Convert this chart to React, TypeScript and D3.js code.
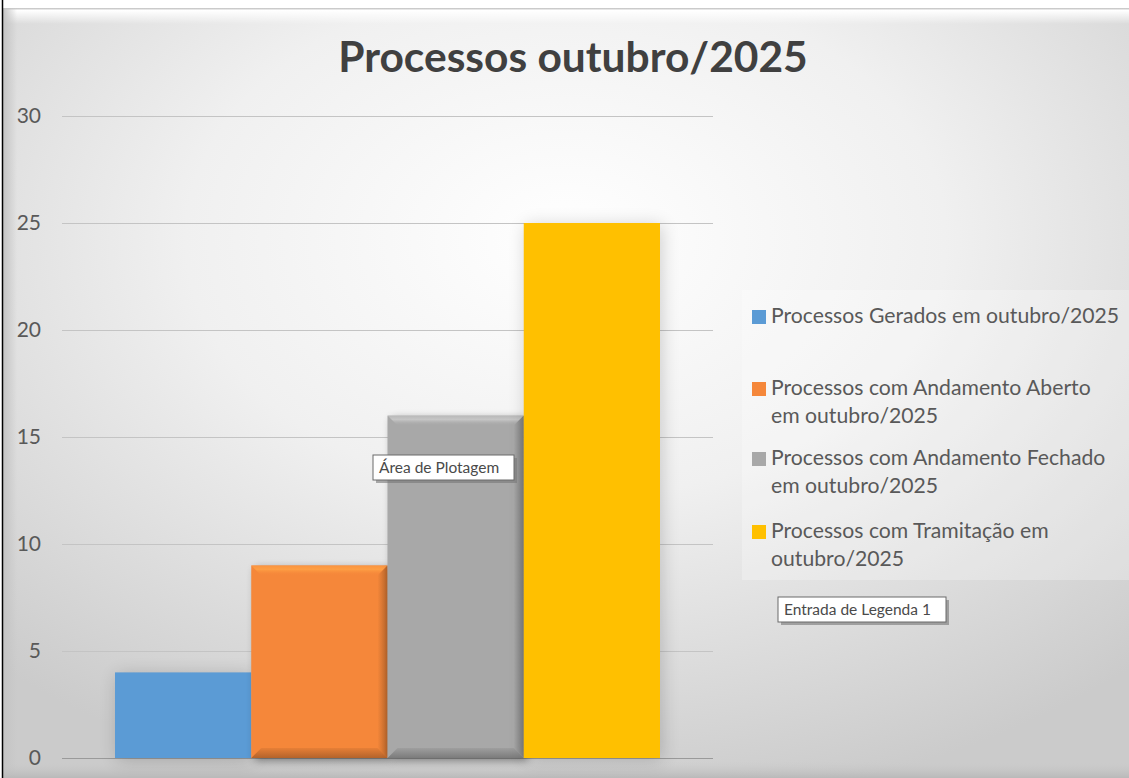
import React from 'react';
import * as d3 from 'd3';

const title = 'Processos outubro/2025';
const seriesNames = [
  'Processos Gerados em outubro/2025',
  'Processos com Andamento Aberto em outubro/2025',
  'Processos com Andamento Fechado em outubro/2025',
  'Processos com Tramitação em outubro/2025',
];
const legendLines = [
  ['Processos Gerados em outubro/2025'],
  ['Processos com Andamento Aberto', 'em outubro/2025'],
  ['Processos com Andamento Fechado', 'em outubro/2025'],
  ['Processos com Tramitação em', 'outubro/2025'],
];
const values = [4, 9, 16, 25];
const colors = ['#5B9BD5', '#F5873A', '#A8A8A8', '#FFC000'];
const beveled = [false, true, true, false];
const yTicks = [0, 5, 10, 15, 20, 25, 30];

const W = 1129;
const H = 778;
const FONT = 'Lato, "Open Sans", sans-serif';

// Excel-like bevel drawn as four facets
function BevelBar({ x, y, w, h, color, id }: { x: number; y: number; w: number; h: number; color: string; id: string }) {
  const b = 10;
  const c = d3.color(color)!;
  const light = c.brighter(0.5).formatHex();
  const dark = c.darker(1).formatHex();
  return (
    <g>
      <defs>
        <linearGradient id={`top-${id}`} x1="0" y1="0" x2="0" y2="1">
          <stop offset="0" stopColor={light} stopOpacity={0.5} />
          <stop offset="0.4" stopColor={light} stopOpacity={0.9} />
          <stop offset="1" stopColor={color} stopOpacity={0} />
        </linearGradient>
        <linearGradient id={`right-${id}`} x1="0" y1="0" x2="1" y2="0">
          <stop offset="0" stopColor={dark} stopOpacity={0} />
          <stop offset="1" stopColor={dark} stopOpacity={0.85} />
        </linearGradient>
        <linearGradient id={`bot-${id}`} x1="0" y1="0" x2="0" y2="1">
          <stop offset="0" stopColor={dark} stopOpacity={0.2} />
          <stop offset="1" stopColor={dark} stopOpacity={0.9} />
        </linearGradient>
      </defs>
      <rect x={x + 4} y={y + 3} width={w} height={h} fill="#000" opacity={0.4} filter="url(#blur4)" />
      <rect x={x} y={y} width={w} height={h} fill={color} />
      <polygon points={`${x},${y} ${x + w},${y} ${x + w - b},${y + b} ${x + b},${y + b}`} fill={`url(#top-${id})`} />
      <polygon points={`${x + w},${y} ${x + w},${y + h} ${x + w - b},${y + h - b} ${x + w - b},${y + b}`} fill={`url(#right-${id})`} />
      <polygon points={`${x},${y + h} ${x + w},${y + h} ${x + w - b},${y + h - b} ${x + b},${y + h - b}`} fill={`url(#bot-${id})`} />
    </g>
  );
}

function Tooltip({ x, y, w, h, text }: { x: number; y: number; w: number; h: number; text: string }) {
  return (
    <g>
      <rect x={x + 3} y={y + 3} width={w} height={h} fill="#777" opacity={0.6} />
      <rect x={x} y={y} width={w} height={h} fill="#fff" stroke="#6a6a6a" strokeWidth={1} />
      <text x={x + 6} y={y + h / 2 + 5.5} fontSize={15.5} fill="#4a4a4a" fontFamily={FONT}>
        {text}
      </text>
    </g>
  );
}

export default function App() {
  const y = d3.scaleLinear().domain([0, 30]).range([758, 116]);
  const x = d3.scaleBand<string>().domain(seriesNames).range([115, 660]).padding(0);
  const gridX0 = 62;
  const gridX1 = 713;

  return (
    <svg width={W} height={H} style={{ position: 'absolute', left: 0, top: 0 }} fontFamily={FONT}>
      <defs>
        <radialGradient id="bg" cx="0.5" cy="0.3" r="0.75" gradientUnits="objectBoundingBox">
          <stop offset="0" stopColor="#ffffff" />
          <stop offset="0.45" stopColor="#f0f0f0" />
          <stop offset="1" stopColor="#cbcbcb" />
        </radialGradient>
        <linearGradient id="topBevel" x1="0" y1="0" x2="0" y2="1">
          <stop offset="0" stopColor="#bdbdbd" />
          <stop offset="0.15" stopColor="#ffffff" />
          <stop offset="1" stopColor="#ffffff" stopOpacity={0} />
        </linearGradient>
        <linearGradient id="leftBevel" x1="0" y1="0" x2="1" y2="0">
          <stop offset="0" stopColor="#c4c4c4" />
          <stop offset="1" stopColor="#c4c4c4" stopOpacity={0} />
        </linearGradient>
        <linearGradient id="bottomBevel" x1="0" y1="0" x2="0" y2="1">
          <stop offset="0" stopColor="#c9c9c9" stopOpacity={0} />
          <stop offset="1" stopColor="#b9b9b9" />
        </linearGradient>
        <filter id="blur4" x="-20%" y="-20%" width="140%" height="140%">
          <feGaussianBlur stdDeviation="4" />
        </filter>
        <filter id="blur8" x="-30%" y="-30%" width="160%" height="160%">
          <feGaussianBlur stdDeviation="9" />
        </filter>
      </defs>

      {/* background and frame */}
      <rect x={0} y={0} width={W} height={H} fill="#fff" />
      <rect x={3} y={8} width={W - 3} height={H - 8} fill="url(#bg)" />
      <rect x={3} y={8} width={W - 3} height={16} fill="url(#topBevel)" />
      <rect x={3} y={8} width={14} height={H - 8} fill="url(#leftBevel)" />
      <rect x={3} y={762} width={W - 3} height={16} fill="url(#bottomBevel)" />
      <line x1={2.5} y1={0} x2={2.5} y2={H} stroke="#000" strokeWidth={1.5} />

      {/* title */}
      <text x={573} y={72} textAnchor="middle" fontSize={42.5} fontWeight={700} fill="#404040">
        {title}
      </text>

      {/* gridlines and y ticks */}
      {yTicks.map((t) => (
        <g key={t}>
          <line x1={gridX0} x2={gridX1} y1={y(t) + 0.5} y2={y(t) + 0.5} stroke={t === 0 ? '#9a9a9a' : '#c4c4c4'} strokeWidth={1} />
          <text x={41} y={y(t) + 7} textAnchor="end" fontSize={21} fill="#595959">
            {t}
          </text>
        </g>
      ))}

      {/* bars */}
      {seriesNames.map((s, i) => {
        const bx = x(s)!;
        const bw = x.bandwidth();
        const by = y(values[i]);
        const bh = y(0) - by;
        if (beveled[i]) {
          return <BevelBar key={s} id={`b${i}`} x={bx} y={by} w={bw} h={bh} color={colors[i]} />;
        }
        return (
          <g key={s}>
            <rect x={bx + 2} y={by + 2} width={bw} height={bh} fill="#000" opacity={0.18} filter="url(#blur8)" />
            <rect x={bx} y={by} width={bw} height={bh} fill={colors[i]} />
          </g>
        );
      })}

      {/* legend */}
      <rect x={742} y={290} width={W - 742} height={290} fill="#ffffff" opacity={0.25} />
      {legendLines.map((lines, i) => {
        const baseY = [323, 395, 465, 538][i];
        return (
          <g key={i}>
            <rect x={752} y={baseY - 13} width={14} height={14} fill={colors[i]} />
            {lines.map((l, j) => (
              <text key={j} x={771} y={baseY + j * 27.5} fontSize={21.2} fill="#595959">
                {l}
              </text>
            ))}
          </g>
        );
      })}

      {/* tooltips */}
      <Tooltip x={373} y={455} w={141} h={25} text="Área de Plotagem" />
      <Tooltip x={778} y={597} w={168} h={25} text="Entrada de Legenda 1" />
    </svg>
  );
}
